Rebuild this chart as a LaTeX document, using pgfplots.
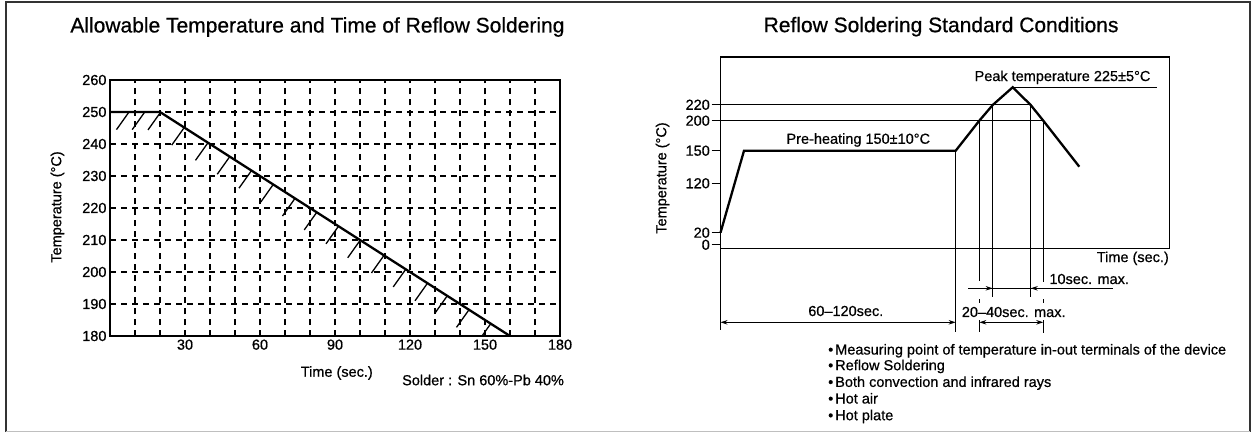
\documentclass[border=0pt]{standalone}
\usepackage{pgfplots}
\pgfplotsset{compat=1.18}
\usepackage{fontspec}
\setmainfont{Liberation Sans}[FakeBold=0.6]
\usetikzlibrary{arrows.meta}
\newcommand{\fs}{\fontsize{14.5}{16.5}\selectfont}
\newcommand{\ft}{\fontsize{21}{24}\selectfont}
\begin{document}
\begin{tikzpicture}[x=1pt,y=1pt]
\useasboundingbox (0,0) rectangle (1254,432);
\fill[white] (0,0) rectangle (1254,432);
\draw[line width=1.5pt, black!80] (6,0) -- (6,430) -- (1250,430) -- (1250,0);
\draw[line width=0.6pt, black!25] (6,1) -- (1250,1);

% ---------------- Left chart ----------------
\begin{axis}[
  at={(110pt,96pt)}, anchor=south west, scale only axis,
  width=450pt, height=256pt,
  xmin=0, xmax=180, ymin=180, ymax=260,
  xtick={30,60,...,180}, minor xtick={10,20,...,170},
  ytick={180,190,...,260},
  grid=both,
  major tick length=0pt, minor tick length=0pt,
  major grid style={black, line width=1.2pt, dash pattern=on 6pt off 5pt},
  minor grid style={black, line width=1.2pt, dash pattern=on 6pt off 5pt},
  axis line style={line width=1.8pt},
  tick label style={font=\fs},
  /pgf/number format/assume math mode=true,
  clip=false,
]
\addplot[black, line width=2.3pt, mark=none] coordinates {(0,250) (20,250) (160,180)};
\addplot[black, line width=1.3pt, mark=none, unbounded coords=jump] coordinates {
 (7.6,250) (2.6,244.5) (nan,nan)
 (13.9,250) (8.9,244.5) (nan,nan)
 (20.2,249.9) (15.2,244.4) (nan,nan)
 (29.7,245.15) (24.7,239.65) (nan,nan)
 (39.2,240.4) (34.2,234.9) (nan,nan)
 (47.9,236.05) (42.9,230.55) (nan,nan)
 (56.6,231.7) (51.6,226.2) (nan,nan)
 (65.3,227.35) (60.3,221.85) (nan,nan)
 (74.0,223.0) (69.0,217.5) (nan,nan)
 (82.7,218.65) (77.7,213.15) (nan,nan)
 (91.4,214.3) (86.4,208.8) (nan,nan)
 (100.1,209.95) (95.1,204.45) (nan,nan)
 (109.6,205.2) (104.6,199.7) (nan,nan)
 (118.3,200.85) (113.3,195.35) (nan,nan)
 (127.0,196.5) (122.0,191.0) (nan,nan)
 (134.9,192.55) (129.9,187.05) (nan,nan)
 (143.6,188.2) (138.6,182.7) (nan,nan)
 (152.3,183.85) (148.8,180)
};
\node[font=\ft] at (axis description cs:0.461,1.207) {Allowable Temperature and Time of Reflow Soldering};
\node[font=\fs] at (axis description cs:0.504,-0.1445) {Time (sec.)};
\node[font=\fs, rotate=90] at (axis description cs:-0.1167,0.504) {Temperature (°C)};
\node[font=\fs] at (axis description cs:0.829,-0.172) {Solder : Sn 60\%-Pb 40\%};
\end{axis}

% ---------------- Right chart ----------------
\begin{axis}[
  at={(720.5pt,183.7pt)}, anchor=south west, scale only axis,
  width=449pt, height=191.6pt,
  xmin=0, xmax=449, ymin=0, ymax=191.6,
  xtick=\empty,
  ytick={3.5,15.6,65,97.6,127.6,143.5},
  yticklabels={0,20,120,150,200,220},
  ytick pos=left, tick align=outside, major tick length=9pt,
  tick style={black, line width=1.2pt},
  yticklabel style={font=\fs, inner xsep=1.5pt},
  axis line style={line width=1.6pt},
  clip=false,
]
% temperature profile
\addplot[black, line width=2.3pt, mark=none] coordinates {
 (0,15.6) (23.5,97.6) (235.2,97.6) (258.8,127.6) (272.2,143.3) (292.2,161)
 (310.2,143.3) (322.8,127.6) (358.8,81.6)};
% reference lines
\addplot[black, line width=1pt, mark=none, unbounded coords=jump] coordinates {
 (0,143.5) (310.2,143.5) (nan,nan)
 (0,127.5) (322.8,127.5) (nan,nan)
 (292.2,161) (436.2,161) (nan,nan)
 (235.2,97.6) (235.2,-83.4) (nan,nan)
 (258.8,127.6) (258.8,-32.7) (nan,nan)
 (258.8,-50.7) (258.8,-54.7) (nan,nan)
 (258.8,-71.7) (258.8,-83.7) (nan,nan)
 (272.2,143.3) (272.2,-48.4) (nan,nan)
 (310.2,143.3) (310.2,-48.4) (nan,nan)
 (322.8,127.6) (322.8,-33.4) (nan,nan)
 (322.8,-50.7) (322.8,-54.7) (nan,nan)
 (322.8,-71.7) (322.8,-84.7)
};
\addplot[black, line width=1.6pt, mark=none] coordinates {(0,0) (0,-81.7)};
% dimension lines
\addplot[black, line width=1.1pt, mark=none] coordinates {(247.8,-40) (392.8,-40)};
\addplot[black, line width=1.1pt, mark=none, -{Stealth[length=7pt,width=4.5pt]}] coordinates {(255,-40) (272.2,-40)};
\addplot[black, line width=1.1pt, mark=none, -{Stealth[length=7pt,width=4.5pt]}] coordinates {(330,-40) (310.2,-40)};
\addplot[black, line width=1.1pt, mark=none, {Stealth[length=7pt,width=4.5pt]}-{Stealth[length=7pt,width=4.5pt]}] coordinates {(258.8,-74) (322.8,-74)};
\addplot[black, line width=1.1pt, mark=none, {Stealth[length=7pt,width=4.5pt]}-{Stealth[length=7pt,width=4.5pt]}] coordinates {(0,-74) (235.2,-74)};
% texts
\node[font=\ft] at (axis cs:220.6,221.6) {Reflow Soldering Standard Conditions};
\node[font=\fs] at (axis cs:342,171) {Peak temperature 225±5°C};
\node[font=\fs] at (axis cs:137.8,108.3) {Pre-heating 150±10°C};
\node[font=\fs] at (axis cs:368.7,-30.7) {10sec. max.};
\node[font=\fs, fill=white, inner sep=0.5pt] at (axis cs:293.2,-63.7) {20–40sec. max.};
\node[font=\fs] at (axis cs:125.3,-62.7) {60–120sec.};
\node[font=\fs, anchor=east, inner sep=0pt] at (axis cs:448.5,-10) {Time (sec.)};
\node[font=\fs, rotate=90] at (axis cs:-58,70.3) {Temperature (°C)};
\node[font=\fs, anchor=base west, inner sep=0pt] at (axis cs:107.5,-106.2) {•\kern2pt Measuring point of temperature in-out terminals of the device};
\node[font=\fs, anchor=base west, inner sep=0pt] at (axis cs:107.5,-121.9) {•\kern2pt Reflow Soldering};
\node[font=\fs, anchor=base west, inner sep=0pt] at (axis cs:107.5,-138.6) {•\kern2pt Both convection and infrared rays};
\node[font=\fs, anchor=base west, inner sep=0pt] at (axis cs:107.5,-155.2) {•\kern2pt Hot air};
\node[font=\fs, anchor=base west, inner sep=0pt] at (axis cs:107.5,-171.9) {•\kern2pt Hot plate};
\end{axis}
\end{tikzpicture}
\end{document}
